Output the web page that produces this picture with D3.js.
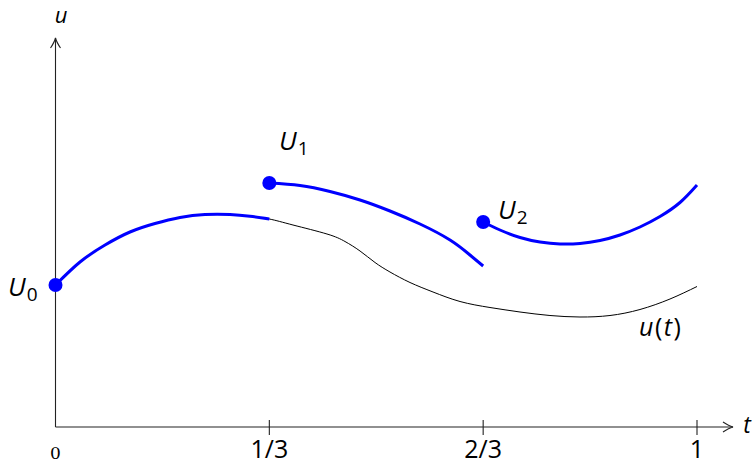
<!DOCTYPE html>
<html>
<head>
<meta charset="utf-8">
<script src="https://cdn.jsdelivr.net/npm/d3@7"></script>
<style>
  html, body { margin: 0; padding: 0; background: #fff; }
  svg { display: block; }
  text { font-family: "Open Sans", "DejaVu Sans", sans-serif; fill: #000; }
</style>
</head>
<body>
<svg id="chart" width="754" height="465"></svg>
<script>
// Exact solution u(t) on [0, 1]
const exactT = [0, 0.0382, 0.0772, 0.1161, 0.1551, 0.1941, 0.2330, 0.2720, 0.3032, 1/3,
                0.3702, 0.4232, 0.4513, 0.4747, 0.4981, 0.5214, 0.5526, 0.5885, 0.6306, 0.6773,
                0.7241, 0.7708, 0.8176, 0.8644, 0.9111, 0.9579, 1];
const exactU = [1.42, 1.65, 1.82, 1.95, 2.035, 2.095, 2.125, 2.125, 2.107, 2.08,
                2.02, 1.93, 1.855, 1.76, 1.645, 1.55, 1.445, 1.35, 1.255, 1.195,
                1.15, 1.115, 1.10, 1.115, 1.175, 1.28, 1.405];

// Local solutions started from U0, U1, U2 on each sub-interval
const seg0T = [0, 0.0382, 0.0772, 0.1161, 0.1551, 0.1941, 0.2330, 0.2720, 0.3032, 1/3];
const seg0U = [1.42, 1.65, 1.82, 1.95, 2.035, 2.095, 2.125, 2.125, 2.107, 2.08];
const seg1T = [1/3, 0.3811, 0.4279, 0.4747, 0.5214, 0.5682, 0.6150, 0.6461, 2/3];
const seg1U = [2.44, 2.415, 2.355, 2.27, 2.16, 2.03, 1.87, 1.72, 1.61];
const seg2T = [2/3, 0.6929, 0.7241, 0.7553, 0.7864, 0.8176, 0.8488, 0.8800, 0.9111, 0.9423, 0.9735, 1];
const seg2U = [2.05, 1.97, 1.895, 1.85, 1.83, 1.835, 1.865, 1.92, 2.00, 2.105, 2.245, 2.42];

// Shooting points
const nodeNames = ["U", "U", "U"];
const nodeSubs = ["0", "1", "2"];
const nodeT = [0, 1/3, 2/3];
const nodeU = [1.42, 2.44, 2.05];

// Time axis ticks
const tickValues = [0, 1/3, 2/3, 1];
const tickLabels = ["0", "1/3", "2/3", "1"];

const svg = d3.select("#chart");
const x = d3.scaleLinear().domain([0, 1]).range([55.5, 697]);
const y = d3.scaleLinear().domain([0, 3.89]).range([427, 38]);

const zip = (ts, us) => ts.map((t, i) => [t, us[i]]);
const line = d3.line().x(d => x(d[0])).y(d => y(d[1])).curve(d3.curveNatural);

// Axes
const axisColor = "#222";
const x0 = x(0), y0 = y(0);
const xEnd = 733, yEnd = 38;
svg.append("line").attr("x1", x0).attr("y1", y0).attr("x2", xEnd).attr("y2", y0)
  .attr("stroke", axisColor).attr("stroke-width", 1.1);
svg.append("line").attr("x1", x0).attr("y1", y0).attr("x2", x0).attr("y2", yEnd)
  .attr("stroke", axisColor).attr("stroke-width", 1.1);

// Arrow heads
svg.append("path")
  .attr("d", `M${xEnd - 10},${y0 - 5} Q${xEnd - 4},${y0 - 1} ${xEnd},${y0} Q${xEnd - 4},${y0 + 1} ${xEnd - 10},${y0 + 5}`)
  .attr("fill", "none").attr("stroke", axisColor).attr("stroke-width", 1.1);
svg.append("path")
  .attr("d", `M${x0 - 5},${yEnd + 10} Q${x0 - 1},${yEnd + 4} ${x0},${yEnd} Q${x0 + 1},${yEnd + 4} ${x0 + 5},${yEnd + 10}`)
  .attr("fill", "none").attr("stroke", axisColor).attr("stroke-width", 1.1);

// Tick marks and labels
tickValues.forEach((t, i) => {
  if (i > 0) {
    svg.append("line").attr("x1", x(t)).attr("x2", x(t)).attr("y1", y0 - 7).attr("y2", y0 + 8)
      .attr("stroke", axisColor).attr("stroke-width", 1.1);
  }
  const lab = svg.append("text").attr("x", x(t)).attr("text-anchor", "middle").text(tickLabels[i]);
  if (i === 0) {
    lab.attr("y", 459).style("font-family", "'DejaVu Serif', 'Liberation Serif', serif").style("font-size", "17px");
  } else {
    lab.attr("y", 458).style("font-size", "25px");
  }
});

// Axis names
svg.append("text").attr("x", 61).attr("y", 23).attr("text-anchor", "middle")
  .style("font-size", "22px").style("font-style", "italic").text("u");
svg.append("text").attr("x", 747).attr("y", 433).attr("text-anchor", "middle")
  .style("font-size", "23px").style("font-style", "italic").text("t");

// Exact trajectory
svg.append("path").attr("d", line(zip(exactT, exactU)))
  .attr("fill", "none").attr("stroke", "#000").attr("stroke-width", 1);

// Local trajectories
[zip(seg0T, seg0U), zip(seg1T, seg1U), zip(seg2T, seg2U)].forEach(seg => {
  svg.append("path").attr("d", line(seg))
    .attr("fill", "none").attr("stroke", "#0000ff").attr("stroke-width", 3);
});

// Node markers
svg.selectAll("circle.node").data(nodeT).join("circle")
  .attr("class", "node")
  .attr("cx", (t) => x(t)).attr("cy", (t, i) => y(nodeU[i])).attr("r", 7)
  .attr("fill", "#0000ff");

// Node labels
const labelPos = [[8, 296], [279, 150], [498, 219]];
nodeNames.forEach((n, i) => {
  const tx = svg.append("text").attr("x", labelPos[i][0]).attr("y", labelPos[i][1])
    .style("font-size", "26px");
  tx.append("tspan").style("font-style", "italic").text(n);
  tx.append("tspan").attr("dy", 5).attr("dx", 1).style("font-size", "19px").text(nodeSubs[i]);
});

// Curve label
const ul = svg.append("text").attr("x", 639).attr("y", 336).style("font-size", "25px")
  .style("letter-spacing", "1.5px");
ul.append("tspan").style("font-style", "italic").text("u");
ul.append("tspan").text("(");
ul.append("tspan").style("font-style", "italic").text("t");
ul.append("tspan").text(")");
</script>
</body>
</html>
